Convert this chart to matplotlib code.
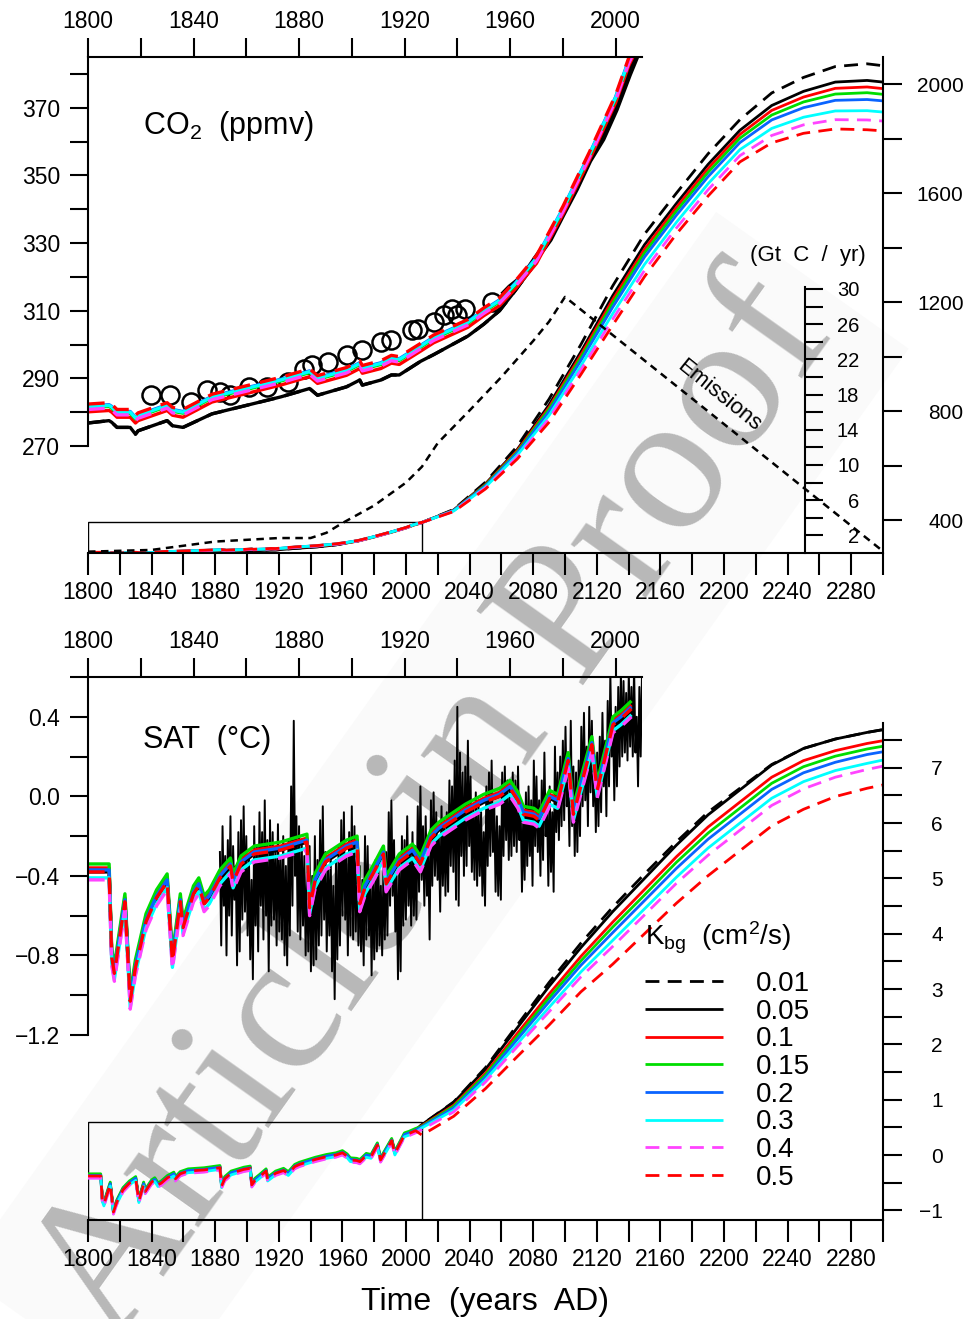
import numpy as np
import matplotlib
matplotlib.use('Agg')
import matplotlib.pyplot as plt
from matplotlib.patches import Rectangle
from matplotlib.ticker import FuncFormatter

plt.rcParams['font.family'] = ['Liberation Sans', 'DejaVu Sans']
plt.rcParams['mathtext.fontset'] = 'custom'
plt.rcParams['mathtext.rm'] = 'Liberation Sans'
plt.rcParams['mathtext.it'] = 'Liberation Sans:italic'
plt.rcParams['axes.linewidth'] = 1.5

# ---------------- data ----------------
kbg_labels = ['0.01', '0.05', '0.1', '0.15', '0.2', '0.3', '0.4', '0.5']
kbg_colors = ['black', 'black', '#ff0000', '#00dd00', '#0a64ff', '#00ffff', '#ff44ff', '#ff0000']
kbg_dashed = [True, False, False, False, False, False, True, True]

# CO2 historical model run (ppmv)
co2_hist_years = [1800, 1808, 1809, 1811, 1816, 1818, 1819, 1830, 1832, 1836,
                  1847, 1860, 1873, 1884, 1887, 1898, 1903, 1904, 1911, 1915,
                  1918, 1926, 1931, 1944, 1950, 1956, 1962, 1970, 1980, 1990,
                  2000, 2005, 2010]
co2_hist_model = [281.6, 282, 281.5, 280, 280, 278.3, 279, 282, 280.6, 280,
                  284.5, 287, 289.5, 292, 290, 292.4, 294.4, 293, 294.4, 296,
                  295.6, 299.5, 302, 306.6, 310, 313, 318, 325.5, 340, 356,
                  373, 384, 392]
co2_hist_low = [276.8, 277.5, 277, 275.5, 275.5, 273.5, 274.5, 277.5, 276, 275.5,
                279.5, 282, 284.5, 287, 285, 287.5, 289.5, 288, 289.5, 291,
                291, 295, 297, 302.5, 306, 310, 316, 324.5, 339.5, 355.5,
                372.5, 383.5, 391.5]
co2_hist_shift = [0, 0, -1.5, -0.3, 0.2, 0, -0.8, 0.8]

# CO2 projections (ppmv)
fut_years = [2010, 2030, 2050, 2070, 2090, 2110, 2130, 2150, 2170, 2190,
             2210, 2230, 2250, 2270, 2290, 2300]
co2_future = [
    [392, 440, 540, 672, 845, 1045, 1260, 1450, 1600, 1745, 1870, 1968, 2025, 2065, 2075, 2068],
    [392, 438, 534, 660, 824, 1018, 1224, 1411, 1562, 1706, 1831, 1922, 1974, 2008, 2014, 2008],
    [392, 437, 531, 656, 815, 1007, 1210, 1395, 1548, 1691, 1816, 1904, 1953, 1985, 1990, 1984],
    [392, 436, 529, 651, 808, 997, 1197, 1381, 1534, 1677, 1802, 1887, 1935, 1964, 1969, 1963],
    [392, 436, 526, 647, 799, 986, 1182, 1366, 1519, 1661, 1786, 1869, 1914, 1941, 1944, 1939],
    [392, 434, 522, 639, 785, 967, 1158, 1339, 1493, 1635, 1760, 1838, 1879, 1902, 1903, 1898],
    [392, 433, 519, 632, 773, 952, 1138, 1317, 1472, 1613, 1738, 1812, 1851, 1870, 1869, 1865],
    [392, 432, 515, 625, 760, 935, 1116, 1294, 1450, 1590, 1715, 1785, 1820, 1836, 1833, 1829],
]

# ice core CO2 and Mauna Loa
ice_years = [1824, 1831, 1839, 1845, 1850, 1854, 1861, 1868, 1876, 1882,
             1885, 1891, 1898, 1904, 1911, 1915, 1923, 1925, 1931, 1935,
             1938, 1940, 1943, 1953]
ice_co2 = [285.0, 285.0, 283.1, 286.5, 286.0, 285.0, 287.5, 287.5, 289.0, 292.9,
           293.9, 294.9, 296.8, 298.3, 300.8, 301.3, 304.4, 304.7, 306.7, 308.6,
           310.6, 308.6, 310.6, 312.5]
ml_years = [1958, 1960, 1965, 1970, 1975, 1980, 1985, 1990, 1995, 2000, 2005, 2009]
ml_co2 = [315.3, 316.9, 320.0, 325.7, 331.1, 338.7, 346.1, 354.4, 360.8, 369.5, 379.8, 387.4]

# emissions (Gt C / yr)
emis_years = [1800, 1840, 1880, 1920, 1940, 1950, 1960, 1980, 2000, 2010,
              2020, 2040, 2060, 2080, 2090, 2100, 2300]
emis_gtc = [0.15, 0.35, 1.3, 1.7, 1.7, 2.3, 3.4, 5.4, 8.0, 9.8,
            12.5, 16.2, 20.0, 24.1, 26.3, 29.1, 0.2]

# SAT historical model run (deg C)
sat_hist_years = [1800, 1808, 1809, 1810, 1814, 1816, 1818, 1822, 1826, 1830,
                  1832, 1835, 1836, 1840, 1842, 1844, 1846, 1850, 1854, 1855,
                  1858, 1863, 1873, 1883, 1884, 1886, 1890, 1898, 1902, 1903,
                  1905, 1908, 1912, 1913, 1918, 1923, 1926, 1930, 1933, 1943,
                  1950, 1956, 1960, 1963, 1965, 1969, 1971, 1975, 1978, 1982,
                  1984, 1986, 1991, 1993, 1999, 2002, 2006]
sat_hist_model = [-0.37, -0.37, -0.80, -0.88, -0.52, -1.02, -0.85, -0.62, -0.50, -0.42,
                  -0.82, -0.52, -0.65, -0.48, -0.44, -0.53, -0.50, -0.40, -0.34, -0.42,
                  -0.33, -0.28, -0.26, -0.22, -0.55, -0.42, -0.32, -0.25, -0.23, -0.53,
                  -0.45, -0.38, -0.28, -0.43, -0.32, -0.27, -0.33, -0.20, -0.16, -0.07,
                  -0.02, 0.01, 0.05, -0.01, -0.08, -0.09, -0.11, 0.0, -0.02, 0.19,
                  -0.08, 0.02, 0.27, 0.04, 0.37, 0.40, 0.45]
sat_hist_shift = [0.0, -0.01, 0.01, 0.03, 0.0, -0.04, -0.05, -0.01]

sat_future = [
    [0.55, 0.96, 1.58, 2.35, 3.12, 3.83, 4.48, 5.08, 5.66, 6.20, 6.63, 7.06, 7.35, 7.52, 7.64, 7.69],
    [0.55, 0.95, 1.55, 2.30, 3.05, 3.75, 4.40, 5.00, 5.60, 6.15, 6.60, 7.05, 7.35, 7.52, 7.64, 7.69],
    [0.53, 0.90, 1.48, 2.20, 2.91, 3.59, 4.21, 4.80, 5.39, 5.93, 6.38, 6.83, 7.13, 7.31, 7.44, 7.49],
    [0.52, 0.88, 1.45, 2.14, 2.84, 3.51, 4.12, 4.70, 5.29, 5.82, 6.27, 6.72, 7.02, 7.21, 7.34, 7.39],
    [0.51, 0.85, 1.41, 2.09, 2.77, 3.43, 4.02, 4.60, 5.18, 5.71, 6.16, 6.61, 6.91, 7.10, 7.24, 7.29],
    [0.49, 0.81, 1.36, 2.01, 2.67, 3.31, 3.88, 4.45, 5.02, 5.55, 6.00, 6.45, 6.75, 6.95, 7.08, 7.14],
    [0.46, 0.78, 1.32, 1.96, 2.59, 3.22, 3.77, 4.34, 4.91, 5.42, 5.87, 6.32, 6.62, 6.83, 6.97, 7.03],
    [0.36, 0.70, 1.20, 1.78, 2.35, 2.95, 3.45, 4.00, 4.55, 5.05, 5.50, 5.95, 6.25, 6.48, 6.63, 6.69],
]

# observed SAT, yearly max / min of monthly anomalies, 1850-2010
obs_years = np.arange(1850, 2011)
sat_obs_hi = [
    -0.28, -0.15, -0.30, -0.22, -0.10, -0.25, -0.35, -0.18, -0.12, -0.05,
    -0.20, -0.30, -0.42, -0.15, -0.25, -0.08, -0.18, -0.02, -0.22, -0.12,
    -0.18, -0.28, -0.14, -0.30, -0.20, -0.35, -0.22, 0.05, 0.38, -0.10,
    -0.15, -0.22, -0.30, -0.38, -0.25, -0.40, -0.20, -0.32, -0.12, -0.05,
    -0.28, -0.35, -0.30, -0.45, -0.32, -0.25, -0.12, -0.08, -0.30, -0.18,
    -0.05, -0.15, -0.28, -0.35, -0.42, -0.20, -0.25, -0.38, -0.40, -0.32,
    -0.30, -0.45, -0.35, -0.28, -0.08, -0.02, -0.22, -0.40, -0.30, -0.20,
    -0.22, -0.10, -0.28, -0.18, -0.25, -0.05, 0.05, -0.15, -0.10, -0.30,
    -0.02, 0.02, -0.08, -0.20, -0.05, -0.12, -0.08, 0.08, 0.05, 0.18,
    0.45, 0.22, 0.12, 0.15, 0.28, 0.10, -0.05, 0.02, -0.02, -0.08,
    -0.18, 0.05, 0.12, 0.18, -0.05, -0.10, -0.15, 0.12, 0.15, 0.08,
    0.05, 0.12, 0.08, 0.15, -0.05, -0.08, 0.02, 0.05, -0.02, 0.18,
    0.10, -0.02, 0.08, 0.22, -0.05, 0.05, -0.08, 0.25, 0.12, 0.20,
    0.28, 0.35, 0.10, 0.38, 0.15, 0.12, 0.18, 0.35, 0.42, 0.25,
    0.45, 0.38, 0.20, 0.22, 0.30, 0.42, 0.28, 0.48, 0.62, 0.40,
    0.45, 0.55, 0.62, 0.58, 0.52, 0.62, 0.55, 0.65, 0.40, 0.55, 0.62]
sat_obs_lo = [
    -0.75, -0.55, -0.80, -0.60, -0.70, -0.52, -0.85, -0.78, -0.62, -0.58,
    -0.70, -0.82, -0.92, -0.65, -0.78, -0.55, -0.72, -0.60, -0.88, -0.65,
    -0.62, -0.75, -0.68, -0.72, -0.80, -0.85, -0.70, -0.55, -0.40, -0.68,
    -0.72, -0.65, -0.80, -0.78, -0.88, -0.85, -0.82, -0.75, -0.70, -0.62,
    -0.78, -0.70, -0.88, -1.02, -0.82, -0.75, -0.60, -0.62, -0.80, -0.70,
    -0.72, -0.68, -0.75, -0.78, -0.85, -0.72, -0.70, -0.90, -0.82, -0.78,
    -0.75, -0.80, -0.72, -0.70, -0.55, -0.50, -0.68, -0.92, -0.88, -0.65,
    -0.62, -0.55, -0.65, -0.60, -0.62, -0.48, -0.42, -0.55, -0.50, -0.72,
    -0.45, -0.40, -0.42, -0.58, -0.45, -0.50, -0.48, -0.35, -0.38, -0.52,
    -0.55, -0.30, -0.40, -0.35, -0.25, -0.38, -0.42, -0.45, -0.40, -0.50,
    -0.55, -0.35, -0.30, -0.28, -0.48, -0.50, -0.52, -0.30, -0.22, -0.32,
    -0.30, -0.25, -0.28, -0.22, -0.48, -0.42, -0.35, -0.30, -0.45, -0.25,
    -0.28, -0.40, -0.32, -0.20, -0.45, -0.38, -0.48, -0.18, -0.22, -0.15,
    -0.12, -0.05, -0.25, -0.15, -0.30, -0.28, -0.20, -0.05, -0.02, -0.15,
    0.02, -0.05, -0.18, -0.15, -0.08, 0.05, -0.10, 0.05, 0.20, -0.02,
    0.05, 0.15, 0.20, 0.22, 0.18, 0.25, 0.20, 0.22, 0.05, 0.20, 0.30]

# outline of the inset windows drawn on the main panels
co2_box_top = 394

# ---------------- figure ----------------
W, H = 967, 1319
fig = plt.figure(figsize=(W / 100, H / 100), dpi=100)


def box(l, t, r, b):
    return [l / W, 1 - b / H, (r - l) / W, (b - t) / H]


def ftext(x, y, s, **kw):
    fig.text(x / W, 1 - y / H, s, **kw)


def label_every(step, start, fmt='{:.0f}'):
    def f(v, pos):
        k = (v - start) / step
        if abs(k - round(k)) > 1e-6:
            return ''
        if abs(v) < 1e-9:
            v = 0.0
        return fmt.format(v).replace('-', '\u2212')
    return FuncFormatter(f)


def right_labels(ax, pad):
    ax.yaxis.tick_right()
    ax.tick_params(axis='y', pad=pad)
    for t in ax.yaxis.get_major_ticks():
        t.label2.set_horizontalalignment('right')


def style(i):
    kw = dict(color=kbg_colors[i], lw=2.0, solid_capstyle='butt')
    if kbg_dashed[i]:
        kw['dashes'] = (5.0, 3.0)
    return kw


# watermark
wm = fig.text(0.450, 0.385, 'Article in Proof', rotation=54.6, fontsize=143,
              family='Liberation Serif', color='#b8b8b8', ha='center', va='center',
              zorder=-5)
wm.set_bbox(dict(facecolor='#fafafa', edgecolor='none', pad=20))

# ---- top: CO2 ----
ax1 = fig.add_axes(box(88, 57, 883, 553))
ax1.set_facecolor('none')
ax1.set_xlim(1800, 2300)
ax1.set_ylim(280, 2100)
ax1.spines[['left', 'top']].set_visible(False)
ax1.set_xticks(np.arange(1800, 2301, 20))
ax1.xaxis.set_major_formatter(label_every(40, 1800))
ax1.tick_params(axis='x', direction='out', length=16, width=1.5, labelsize=16.5, pad=4)

for i in range(8):
    base = co2_hist_low if i < 2 else co2_hist_model
    hist = np.array(base) + co2_hist_shift[i]
    ax1.plot(co2_hist_years + fut_years, list(hist) + co2_future[i], **style(i))
ax1.add_patch(Rectangle((1800, 280), 210, co2_box_top - 280, fill=False, lw=1.0, ec='black'))

ax1e = ax1.twinx()
ax1e.set_ylim(0, 56.36)
for s in ['left', 'top', 'bottom']:
    ax1e.spines[s].set_visible(False)
ax1e.spines['right'].set_position(('data', 2251))
ax1e.spines['right'].set_bounds(0, 30.2)
ax1e.set_yticks(np.arange(2, 31, 2))
ax1e.yaxis.set_major_formatter(label_every(4, 2))
ax1e.tick_params(axis='y', direction='out', length=13, width=1.5, labelsize=14.5)
right_labels(ax1e, 26)
ax1e.plot(emis_years, emis_gtc, color='black', lw=1.8, dashes=(3, 2.2))
ax1e.text(2197, 17.9, 'Emissions', rotation=-39, fontsize=16, ha='center', va='center',
          rotation_mode='anchor')
ftext(808, 256, '(Gt  C  /  yr)', fontsize=16, ha='center', va='center')

# CO2 axis on the right (after twinx, which moves it to the left)
ax1.set_yticks(np.arange(400, 2001, 200))
ax1.yaxis.set_major_formatter(label_every(400, 400))
ax1.tick_params(axis='y', direction='out', length=14, width=1.5, labelsize=15)
right_labels(ax1, 44)

ax1i = fig.add_axes(box(88, 57, 642, 446))
ax1i.set_facecolor('none')
ax1i.set_xlim(1800, 2010)
ax1i.set_ylim(270, 385)
ax1i.spines[['right', 'bottom']].set_visible(False)
ax1i.xaxis.tick_top()
ax1i.set_xticks(np.arange(1800, 2001, 20))
ax1i.xaxis.set_major_formatter(label_every(40, 1800))
ax1i.tick_params(axis='x', direction='out', length=14, width=1.5, labelsize=16.5, pad=3)
ax1i.set_yticks(np.arange(270, 381, 10))
ax1i.yaxis.set_major_formatter(label_every(20, 270))
ax1i.tick_params(axis='y', direction='out', length=13, width=1.5, labelsize=16.5, pad=7)

ax1i.plot(ice_years, ice_co2, 'o', mfc='none', mec='black', ms=13, mew=1.8, clip_on=False)
ax1i.plot(ml_years, ml_co2, color='black', lw=4.5)
for i in range(8):
    base = co2_hist_low if i < 2 else co2_hist_model
    kw = style(i)
    kw['lw'] = 2.4
    ax1i.plot(co2_hist_years, np.array(base) + co2_hist_shift[i], **kw)
ftext(143, 126, r'CO$_\mathregular{2}$  (ppmv)', fontsize=22, ha='left', va='center')

# ---- bottom: SAT ----
ax2 = fig.add_axes(box(88, 723, 883, 1220))
ax2.set_facecolor('none')
ax2.set_xlim(1800, 2300)
ax2.set_ylim(-1.175, 7.81)
ax2.spines[['left', 'top']].set_visible(False)
ax2.set_yticks(np.arange(-1, 7.51, 0.5))
ax2.yaxis.set_major_formatter(label_every(1, 0))
ax2.tick_params(axis='y', direction='out', length=14, width=1.5, labelsize=15)
right_labels(ax2, 29)
ax2.set_xticks(np.arange(1800, 2301, 20))
ax2.xaxis.set_major_formatter(label_every(40, 1800))
ax2.tick_params(axis='x', direction='out', length=16, width=1.5, labelsize=16.5, pad=4)

handles = []
for i in range(8):
    hist = np.array(sat_hist_model) + sat_hist_shift[i]
    ln, = ax2.plot(sat_hist_years + fut_years, list(hist) + sat_future[i], **style(i))
    handles.append(ln)
ax2.add_patch(Rectangle((1800, -1.175), 210, 0.6 + 1.175, fill=False, lw=1.0, ec='black'))

ax2i = fig.add_axes(box(88, 677, 642, 1035))
ax2i.set_facecolor('none')
ax2i.set_xlim(1800, 2010)
ax2i.set_ylim(-1.2, 0.6)
ax2i.spines[['right', 'bottom']].set_visible(False)
ax2i.xaxis.tick_top()
ax2i.set_xticks(np.arange(1800, 2001, 20))
ax2i.xaxis.set_major_formatter(label_every(40, 1800))
ax2i.tick_params(axis='x', direction='out', length=14, width=1.5, labelsize=16.5, pad=3)
ax2i.set_yticks(np.arange(-1.2, 0.61, 0.2))
ax2i.yaxis.set_major_formatter(label_every(0.4, 0, '{:.1f}'))
ax2i.tick_params(axis='y', direction='out', length=13, width=1.5, labelsize=16.5, pad=7)

obs_x = np.column_stack([obs_years, obs_years + 0.5]).ravel()
obs_y = np.column_stack([sat_obs_hi, sat_obs_lo]).ravel()
ax2i.plot(obs_x, obs_y, color='black', lw=1.4)
for i in range(8):
    kw = style(i)
    kw['lw'] = 2.4
    ax2i.plot(sat_hist_years, np.array(sat_hist_model) + sat_hist_shift[i], **kw)
ftext(143, 740, 'SAT  (\u00b0C)', fontsize=22, ha='left', va='center')

# legend
ftext(645, 938, r'K$_\mathregular{bg}$  (cm$^\mathregular{2}$/s)', fontsize=20,
      ha='left', va='center')
fig.legend(handles, kbg_labels, loc='upper left',
           bbox_to_anchor=(645 / W, 1 - 971 / H),
           fontsize=20, frameon=False,
           handlelength=2.8, handletextpad=1.2, labelspacing=0.06,
           borderpad=0, borderaxespad=0)

ftext(485, 1302, 'Time  (years  AD)', fontsize=23, ha='center', va='center')

fig.savefig('out.png', dpi=100)
